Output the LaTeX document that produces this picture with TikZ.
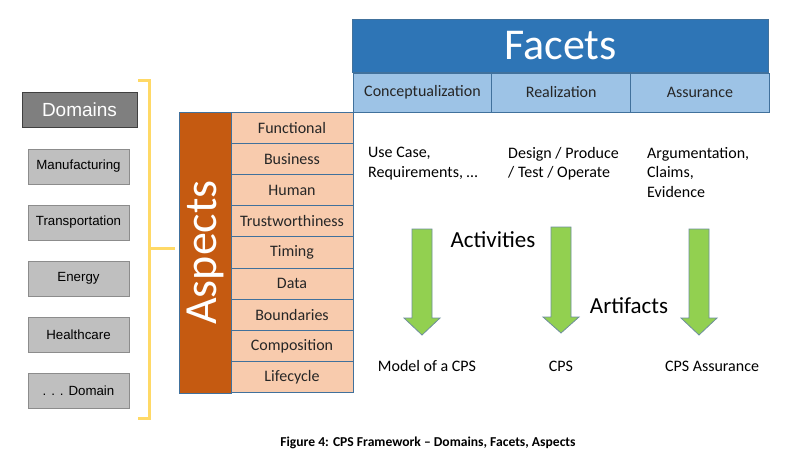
\documentclass[tikz,border=0pt]{standalone}
\usepackage{fontspec}
\setmainfont{Carlito}
\newfontfamily\arialfont{Liberation Sans}
\usetikzlibrary{positioning}

\definecolor{facetdark}{HTML}{2E75B6}
\definecolor{facetlight}{HTML}{9DC3E6}
\definecolor{cellline}{HTML}{41719C}
\definecolor{aspectdark}{HTML}{C55A11}
\definecolor{aspectlight}{HTML}{F8CBAD}
\definecolor{domdark}{HTML}{7F7F7F}
\definecolor{domlight}{HTML}{BFBFBF}
\definecolor{bracketyellow}{HTML}{FFD966}
\definecolor{arrowgreen}{HTML}{92D050}
\definecolor{arrowline}{HTML}{6E8F9C}

\tikzset{
  facetcell/.style={draw=cellline, fill=facetlight, line width=0.8pt, minimum width=138.7pt,
    minimum height=39pt, inner sep=0pt, font=\fontsize{16}{19}\selectfont, text=black!85},
  aspectcell/.style={draw=cellline, fill=aspectlight, line width=1pt, minimum width=122pt,
    minimum height=31.2pt, inner sep=0pt, font=\fontsize{16}{19}\selectfont, text=black!85},
  domainbox/.style={draw=black!45, fill=domlight, line width=0.8pt, minimum width=101pt,
    minimum height=35pt, inner sep=0pt, font=\arialfont\fontsize{13.3}{15}\selectfont},
  notes/.style={anchor=north west, align=left, inner sep=0pt,
    font=\fontsize{16}{19.5}\selectfont},
  biglabel/.style={inner sep=0pt, font=\fontsize{23}{27}\selectfont},
  outcome/.style={inner sep=0pt, font=\fontsize{16}{19}\selectfont}
}

% block arrow pointing down: centre x, top, start of head, tip
\newcommand{\greenarrow}[4]{
  \filldraw[fill=arrowgreen, draw=arrowline, line width=0.8pt]
    (#1-10,#2) -- (#1+10,#2) -- (#1+10,#3) -- (#1+18,#3) -- (#1,#4)
    -- (#1-18,#3) -- (#1-10,#3) -- cycle;
}

\begin{document}
\begin{tikzpicture}[x=1pt, y=-1pt]
  \useasboundingbox[fill=white] (0,0) rectangle (791,455);

  % facets
  \node[draw=cellline, fill=facetdark, line width=0.8pt, minimum width=416pt, minimum height=53pt,
    inner sep=0pt, text=white, font=\fontsize{44}{50}\selectfont] (facets) at (560.5,46) {Facets};
  \node[facetcell] (concept) at (422.5,92.5) {Conceptualization};
  \node[facetcell] (real) at (561.2,92.5) {Realization};
  \node[facetcell] (assur) at (699.9,92.5) {Assurance};

  % aspects
  \node[draw=cellline, fill=aspectdark, line width=1pt, minimum width=281pt, minimum height=52pt,
    inner sep=0pt, rotate=90, text=white, font=\fontsize{46}{50}\selectfont] (aspects) at (205,252.5) {Aspects};
  \foreach \name [count=\i] in {Functional, Business, Human, Trustworthiness, Timing,
      Data, Boundaries, Composition, Lifecycle}
    \node[aspectcell] (asp\i) at (292,{112+31.2*(\i-0.5)}) {\name};

  % domains
  \node[draw=black!75, fill=domdark, line width=0.8pt, minimum width=115pt, minimum height=35pt,
    inner sep=0pt, text=white, font=\arialfont\fontsize{19}{22}\selectfont] (domains) at (79.5,109.5) {Domains};
  \foreach \name [count=\i] in {Manufacturing, Transportation, Energy, Healthcare, {. . . Domain}}
    \node[domainbox] (dom\i) at (78.5,{166.5+56*(\i-1)}) {\name};

  % bracket
  \draw[bracketyellow, line width=3pt] (138,80) -- (149,80) -- (149,418) -- (138,418);
  \draw[bracketyellow, line width=3pt] (149,248) -- (175,248);

  % activities per facet
  \node[notes] (uses) at (368,147) {Use Case,\\Requirements, \dots};
  \node[notes] (design) at (508,147) {Design / Produce\\/ Test / Operate};
  \node[notes] (argue) at (647,147) {Argumentation,\\Claims,\\Evidence};

  \greenarrow{422}{229}{318}{335}
  \greenarrow{561}{227}{317}{333}
  \greenarrow{699}{229}{318}{335}

  \node[biglabel] (act) at (493,240) {Activities};
  \node[biglabel] (art) at (629,306) {Artifacts};

  \node[outcome] (model) at (427,366) {Model of a CPS};
  \node[outcome] (cps) at (561,366) {CPS};
  \node[outcome] (cpsa) at (712,366) {CPS Assurance};

  \node[inner sep=0pt, font=\bfseries\fontsize{13.6}{16}\selectfont] (caption) at (428,443)
    {Figure 4: CPS Framework -- Domains, Facets, Aspects};
\end{tikzpicture}
\end{document}
